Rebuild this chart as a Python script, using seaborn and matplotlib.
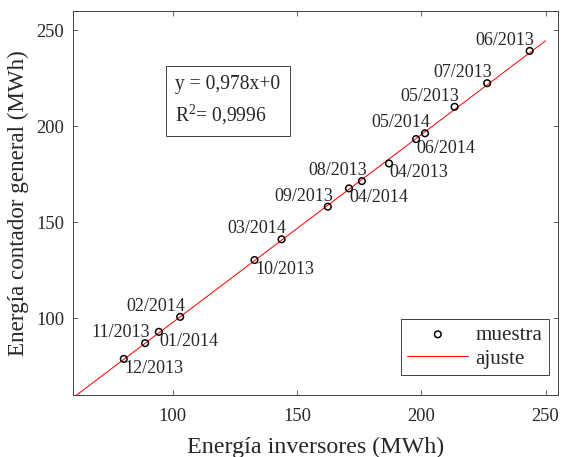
import matplotlib
matplotlib.use("Agg")
import matplotlib.pyplot as plt
import seaborn as sns
import pandas as pd
import numpy as np

# ---- data ----
labels = ["06/2013", "07/2013", "05/2013", "05/2014", "06/2014", "04/2013",
          "08/2013", "04/2014", "09/2013", "03/2014", "10/2013", "02/2014",
          "01/2014", "11/2013", "12/2013"]
energia_inversores = [243.6, 226.5, 213.4, 201.5, 197.9, 187.0, 176.1, 170.9,
                      162.4, 143.8, 132.9, 103.0, 94.4, 88.9, 80.3]
energia_contador = [239.2, 222.4, 210.1, 196.3, 193.3, 180.6, 171.4, 167.6,
                    158.1, 141.1, 130.3, 100.7, 92.9, 87.0, 78.8]
label_side = ["ul", "ul", "ul", "ul", "lr", "lr", "ul", "lr", "ul", "ul",
              "lr", "ul", "lr", "ul", "lr"]
fit_slope = 0.978
fit_intercept = 0.0
fit_x_range = [60, 250]
x_ticks = [100, 150, 200, 250]
y_ticks = [100, 150, 200, 250]

DPI = 72
sns.set_theme(style="ticks")
plt.rcParams['font.family'] = ['Liberation Serif', 'DejaVu Serif']
plt.rcParams['mathtext.fontset'] = 'custom'
plt.rcParams['mathtext.rm'] = 'Liberation Serif'
plt.rcParams['mathtext.default'] = 'regular'

TXT = '#262626'
fig = plt.figure(figsize=(567 / DPI, 457 / DPI), dpi=DPI)
ax = fig.add_axes([73.3 / 567, 62 / 457, 484.7 / 567, 384 / 457])

df = pd.DataFrame({"inv": energia_inversores, "cont": energia_contador})
fit_df = pd.DataFrame({"x": fit_x_range})
fit_df["y"] = fit_slope * fit_df["x"] + fit_intercept

sns.lineplot(data=fit_df, x="x", y="y", color='red', linewidth=1.0,
             ax=ax, label='ajuste', zorder=2)
sns.scatterplot(data=df, x="inv", y="cont", marker='o', s=44,
                facecolors='none', edgecolor='black', linewidth=1.5,
                ax=ax, label='muestra', zorder=3)

for lab, xv, yv, side in zip(labels, energia_inversores, energia_contador, label_side):
    if side == "ul":
        ax.annotate(lab, (xv, yv), xytext=(5, 6), textcoords='offset points',
                    ha='right', va='baseline', fontsize=18, color=TXT)
    else:
        ax.annotate(lab, (xv, yv), xytext=(0.5, -14), textcoords='offset points',
                    ha='left', va='baseline', fontsize=18, color=TXT)

ax.set_xlim(60, 255)
ax.set_ylim(60, 260)
ax.set_xticks(x_ticks)
ax.set_yticks(y_ticks)
ax.tick_params(direction='in', top=True, right=True, length=5, width=0.8,
               labelsize=18.5, colors='#444444', labelcolor=TXT)
ax.tick_params(axis='x', pad=13)
ax.tick_params(axis='y', pad=9)
for sp in ax.spines.values():
    sp.set_visible(True)
    sp.set_color('#444444')
    sp.set_linewidth(1.0)

ax.set_xlabel("Energía inversores (MWh)", fontsize=24, color=TXT, labelpad=12)
ax.set_ylabel("Energía contador general (MWh)", fontsize=23, color=TXT, labelpad=7)

ax.text(0.2107, 0.766, "y = 0,978x+0\nR$^{2}$= 0,9996", transform=ax.transAxes,
        ha='left', va='center', fontsize=19.5, color=TXT, linespacing=1.45,
        bbox=dict(boxstyle='square,pad=0.5', facecolor='white',
                  edgecolor='#444444', linewidth=1.0))

handles, labs = ax.get_legend_handles_labels()
order = [labs.index('muestra'), labs.index('ajuste')]
leg = ax.legend([handles[i] for i in order], [labs[i] for i in order],
                loc='lower right', bbox_to_anchor=(0.981, 0.052),
                borderaxespad=0, fontsize=21, frameon=True, fancybox=False,
                framealpha=1, edgecolor='#444444', handlelength=2.9,
                handletextpad=0.35, labelspacing=0.2, borderpad=0.3)
leg.get_frame().set_linewidth(1.0)
for t in leg.get_texts():
    t.set_color(TXT)

fig.savefig("out.png", dpi=DPI)
